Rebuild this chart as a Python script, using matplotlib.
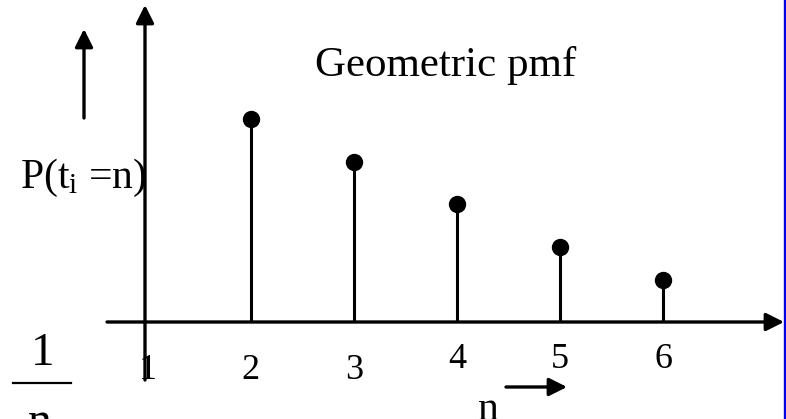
import numpy as np
import matplotlib
matplotlib.use('Agg')
import matplotlib.pyplot as plt
from matplotlib.lines import Line2D
from matplotlib.transforms import blended_transform_factory

plt.rcParams.update({
    'font.family': 'Liberation Serif',
    'mathtext.fontset': 'custom',
    'mathtext.rm': 'Liberation Serif',
    'mathtext.it': 'Liberation Serif:italic',
})

# geometric pmf, n = 2..6
n_vals = np.array([2, 3, 4, 5, 6])
pmf = np.array([0.406, 0.320, 0.236, 0.150, 0.084])
tick_labels = ['1', '2', '3', '4', '5', '6']

W, H = 786, 419
fig = plt.figure(figsize=(W / 100, H / 100), dpi=100)
ax = fig.add_axes([0, 0, 1, 1])
ax.set_xlim(-0.4346, 7.192)
ax.set_ylim(-0.194, 0.644)
ax.axis('off')


def fp(x, y):
    # pixel position (from top-left) -> figure fraction
    return x / W, 1 - y / H


def arrow(tail, tip):
    ax.annotate('', xy=fp(*tip), xytext=fp(*tail),
                xycoords='figure fraction', textcoords='figure fraction',
                arrowprops=dict(arrowstyle='-|>,head_length=0.6,head_width=0.3',
                                mutation_scale=18, lw=2.4, color='black',
                                shrinkA=0, shrinkB=0))


# stems
ax.vlines(n_vals, 0, pmf, color='black', lw=2.2)
ax.plot(n_vals, pmf, 'o', color='black', markersize=11.5)

# axes with arrow heads
arrow((107, 322), (784, 322))
arrow((145, 380), (145, 5))

# tick labels along n
tr = blended_transform_factory(ax.transData, fig.transFigure)
for i, lab in enumerate(tick_labels):
    base = 379 if i < 3 else 368
    ax.text(i + 1, 1 - base / H, lab, transform=tr, ha='center',
            va='baseline', fontsize=26)

# annotations
fig.text(*fp(315, 76), 'Geometric pmf', fontsize=31, ha='left', va='baseline')
fig.text(*fp(20, 188), r'P(t$_{\rm i}$ =n)', fontsize=30, ha='left',
         va='baseline')
arrow((84, 118), (84, 29))

fig.text(*fp(43, 365), '1', fontsize=34, ha='center', va='baseline')
fig.add_artist(Line2D([13 / W, 71 / W], [1 - 383 / H] * 2, color='black',
                      lw=1.6, transform=fig.transFigure))
fig.text(*fp(40, 434), 'n', fontsize=34, ha='center', va='baseline')

fig.text(*fp(478, 420), 'n', fontsize=30, ha='left', va='baseline')
arrow((506, 387), (567, 387))

# blue edge on the right
fig.add_artist(Line2D([784.5 / W] * 2, [0, 1], color='#0000ff', lw=2.4,
                      transform=fig.transFigure))

fig.savefig('out.png', dpi=100)
